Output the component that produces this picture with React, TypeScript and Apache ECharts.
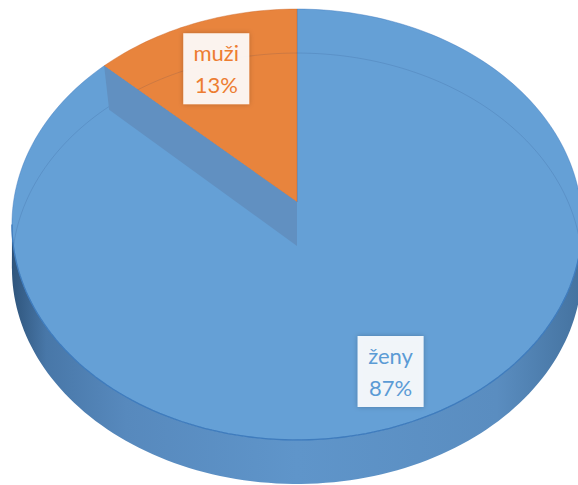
import React, { useEffect, useRef } from "react";
import * as echarts from "echarts";

const categories = ["ženy", "muži"];
const values = [87, 13];
const faceColors = ["#65a0d6", "#e8843d"];
const textColors = ["#5b9bd5", "#ed7d31"];

export default function App() {
  const ref = useRef<HTMLDivElement>(null);

  useEffect(() => {
    const chart = echarts.init(ref.current!, null, { renderer: "svg" });
    const total = values.reduce((a, b) => a + b, 0);
    const starts: number[] = [];
    const ends: number[] = [];
    let acc = 0;
    values.forEach((v) => {
      starts.push((acc / total) * 360);
      acc += v;
      ends.push((acc / total) * 360);
    });

    // projection of a tilted disc with mild perspective
    const cx = 297, cy = 202, sx = 283.5, sy = 213.1, p = 0.1044, h = 44;
    const proj = (deg: number, r = 1): number[] => {
      const t = (deg * Math.PI) / 180;
      const X = r * Math.sin(t);
      const Y = r * Math.cos(t);
      const w = 1 + p * Y;
      return [cx + (sx * X) / w, cy - (sy * Y) / w];
    };
    const arcPts = (a0: number, a1: number, r: number, dy: number) => {
      const n = Math.max(2, Math.ceil(Math.abs(a1 - a0) / 1.5));
      const pts: number[][] = [];
      for (let k = 0; k <= n; k++) {
        const a = a0 + ((a1 - a0) * k) / n;
        const q = proj(a, r);
        pts.push([q[0], q[1] + dy]);
      }
      return pts;
    };
    const thS = (Math.acos(-p) * 180) / Math.PI;
    const center = [cx, cy];

    const sideGradient = new echarts.graphic.LinearGradient(0, 0, 1, 0, [
      { offset: 0, color: "#2f557c" },
      { offset: 0.06, color: "#4877a8" },
      { offset: 0.2, color: "#5789bd" },
      { offset: 0.5, color: "#5f95ca" },
      { offset: 0.85, color: "#5a8dc0" },
      { offset: 1, color: "#44729f" },
    ]);

    const renderItem = (params: any) => {
      const i = params.dataIndex;
      const a0 = starts[i];
      const a1 = ends[i];
      const children: any[] = [];

      // visible outer side
      const s0 = Math.max(a0, thS);
      const s1 = Math.min(a1, 360 - thS);
      if (s1 > s0) {
        const top = arcPts(s0, s1, 1, 0);
        const bottom = arcPts(s1, s0, 1, h);
        children.push({
          type: "polygon",
          shape: { points: top.concat(bottom) },
          style: { fill: sideGradient },
          z2: 1,
        });
        children.push({
          type: "polyline",
          shape: { points: top },
          style: { stroke: "#3f7cbd", lineWidth: 1.3, fill: null },
          z2: 6,
        });
      }

      // top face
      children.push({
        type: "polygon",
        shape: { points: [center].concat(arcPts(a0, a1, 1, 0)) },
        style: {
          fill: faceColors[i],
          stroke: i === 0 ? "rgba(60,120,190,0.55)" : "rgba(200,100,40,0.5)",
          lineWidth: 0.8,
        },
        z2: 2,
      });

      if (i === 0) {
        // faint outline of the disc's lower rim showing through
        children.push({
          type: "polyline",
          shape: { points: arcPts(360 - thS, 360 + thS, 1, h) },
          style: { stroke: "rgba(20,50,100,0.13)", lineWidth: 1, fill: null },
          z2: 4,
        });
      }

      // inner cut wall at the slice's end edge
      if (a1 < 360) {
        const e = proj(a1, 1);
        children.push({
          type: "polygon",
          shape: {
            points: [e, center, [cx, cy + h], [e[0] + 5, e[1] + h]],
          },
          style: { fill: "#6190c1" },
          z2: 5,
        });
      }

      // label
      const mid = (a0 + a1) / 2;
      const lp = proj(mid, 0.77);
      const lx = lp[0];
      const ly = lp[1] + 7;
      const bw = 66, bh = 71;
      children.push({
        type: "rect",
        shape: { x: lx - bw / 2, y: ly - bh / 2, width: bw, height: bh },
        style: {
          fill: "rgba(255,255,255,0.9)",
          shadowBlur: 5,
          shadowColor: "rgba(0,0,0,0.25)",
        },
        z2: 10,
      });
      children.push({
        type: "text",
        x: lx,
        y: ly,
        style: {
          text: categories[i] + "\n" + Math.round((values[i] / total) * 100) + "%",
          fill: textColors[i],
          font: "22px Lato",
          lineHeight: 32,
          align: "center",
          verticalAlign: "middle",
        },
        z2: 11,
      });

      return { type: "group", children };
    };

    chart.setOption({
      animation: false,
      series: [
        {
          type: "custom",
          coordinateSystem: "none",
          silent: true,
          renderItem,
          data: values.map((v, i) => ({ name: categories[i], value: v })),
        },
      ],
    });

    return () => chart.dispose();
  }, []);

  return (
    <div
      ref={ref}
      style={{ position: "absolute", left: 0, top: 0, width: 578, height: 485 }}
    />
  );
}
